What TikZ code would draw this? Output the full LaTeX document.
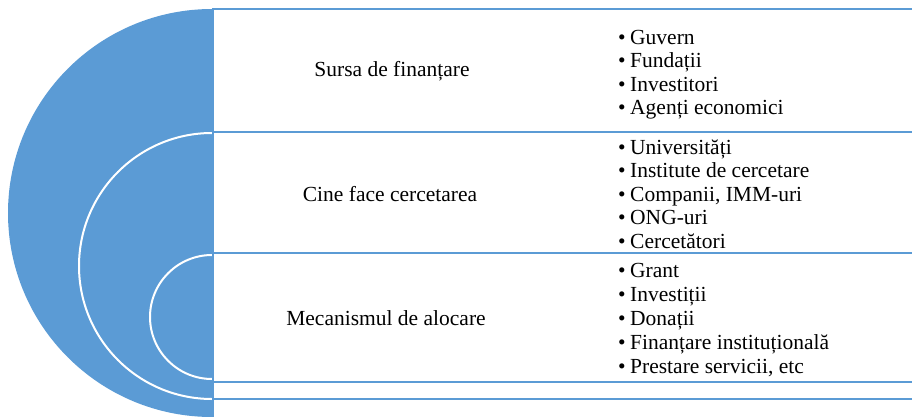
\documentclass[tikz,border=0pt]{standalone}
\usepackage{fontspec}
\setmainfont{Liberation Serif}
\usetikzlibrary{positioning}

\definecolor{arcblue}{RGB}{91,155,213}
\tikzset{
  band/.style={draw=arcblue, line width=1.8pt},
  ring/.style={draw=white, line width=2pt},
  rowtitle/.style={inner sep=0pt, font=\fontsize{21.5}{24}\selectfont},
  listitem/.style={anchor=base west, inner sep=0pt, font=\fontsize{21.5}{24}\selectfont},
}

\begin{document}
\begin{tikzpicture}[x=1pt,y=-1pt]
\useasboundingbox (0,0) rectangle (912,417);
\clip (0,0) rectangle (912,417);
% half disc and inner rings
\fill[arcblue] (212,9) arc[start angle=-90, end angle=-270, radius=204] -- cycle;
\draw[ring] (212,133) arc[start angle=-90, end angle=-270, radius=133];
\draw[ring] (212,255) arc[start angle=-90, end angle=-270, radius=62];
% rows
\draw[band] (213,9) rectangle (920,132);
\draw[band] (213,132) rectangle (920,253);
\draw[band] (213,253) rectangle (920,382);
\draw[band] (213,382) rectangle (920,399);
\draw[band] (213,399) rectangle (920,430);
% titles
\node[rowtitle] (sursa) at (392,71) {Sursa de finanțare};
\node[rowtitle] (cine) at (390,194) {Cine face cercetarea};
\node[rowtitle] (mecanism) at (386,318) {Mecanismul de alocare};
% lists
\foreach \txt [count=\i] in {Guvern, Fundații, Investitori, Agenți economici}
  \node[listitem] (src\i) at (618,{44.5+23.5*(\i-1)}) {\makebox[12pt][l]{•}\txt};
\foreach \txt [count=\i] in {Universități, Institute de cercetare, {Companii, IMM-uri}, ONG-uri, Cercetători}
  \node[listitem] (who\i) at (618,{154+23.5*(\i-1)}) {\makebox[12pt][l]{•}\txt};
\foreach \txt [count=\i] in {Grant, Investiții, Donații, Finanțare instituțională, {Prestare servicii, etc}}
  \node[listitem] (mec\i) at (618,{277+24*(\i-1)}) {\makebox[12pt][l]{•}\txt};
\end{tikzpicture}
\end{document}
